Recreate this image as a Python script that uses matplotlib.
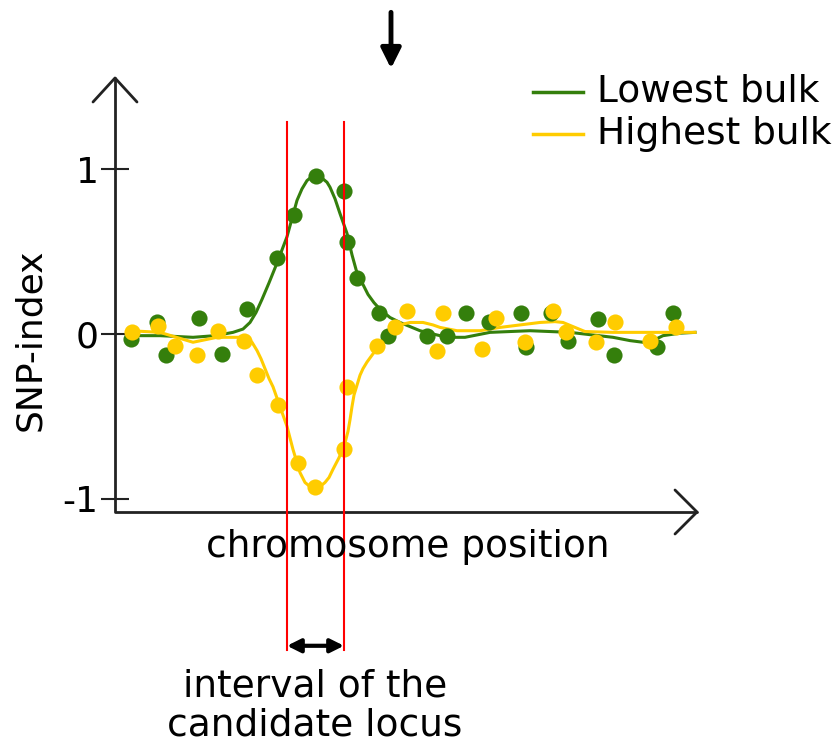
import matplotlib.pyplot as plt
from matplotlib.lines import Line2D

# chromosome position (arbitrary units) and SNP-index values
low_x = [16, 42, 51, 84, 107, 132, 162, 179, 201, 229, 232, 242, 264, 273, 312, 332,
         351, 374, 406, 411, 436, 453, 483, 499, 542, 558]
low_y = [-0.03, 0.07, -0.13, 0.10, -0.12, 0.15, 0.46, 0.72, 0.96, 0.87, 0.56, 0.34, 0.13,
         -0.01, -0.01, -0.01, 0.13, 0.07, 0.13, -0.08, 0.13, -0.04, 0.09, -0.13, -0.08, 0.13]

high_x = [17, 43, 60, 82, 103, 129, 142, 163, 183, 200, 229, 232, 262, 280, 292, 322,
          328, 367, 381, 410, 438, 451, 481, 500, 535, 561]
high_y = [0.01, 0.05, -0.07, -0.13, 0.02, -0.04, -0.25, -0.43, -0.78, -0.93, -0.70, -0.32,
          -0.07, 0.04, 0.14, -0.10, 0.13, -0.09, 0.10, -0.05, 0.14, 0.01, -0.05, 0.07, -0.04, 0.04]

# smoothed trend lines
low_fit_x = [15, 45, 78, 100, 118, 128, 135, 141, 147, 154, 162, 167, 172, 177, 182, 187,
             192, 196, 200, 204, 208, 212, 215, 220, 225, 232, 237, 242, 248, 253, 259,
             265, 275, 285, 295, 305, 318, 332, 350, 375, 415, 455, 498, 515, 528, 538,
             548, 565, 580]
low_fit_y = [-0.01, -0.01, -0.02, -0.01, 0.01, 0.03, 0.07, 0.13, 0.21, 0.31, 0.43, 0.51,
             0.59, 0.70, 0.81, 0.88, 0.93, 0.95, 0.96, 0.955, 0.94, 0.92, 0.89, 0.82, 0.73,
             0.61, 0.48, 0.37, 0.30, 0.24, 0.19, 0.15, 0.10, 0.07, 0.045, 0.02, 0.0, -0.02,
             -0.02, 0.01, 0.02, 0.01, -0.02, -0.04, -0.05, -0.04, -0.01, 0.005, 0.01]

high_fit_x = [15, 45, 78, 102, 125, 132, 137, 142, 146, 150, 154, 158, 165, 172, 178, 185,
              190, 195, 200, 205, 210, 214, 218, 224, 230, 233, 235, 237, 239, 242, 245,
              248, 252, 258, 265, 272, 280, 288, 295, 308, 318, 325, 342, 365, 385, 405,
              425, 440, 448, 460, 470, 498, 535, 580]
high_fit_y = [0.02, 0.01, -0.05, -0.02, -0.02, -0.03, -0.05, -0.10, -0.15, -0.21, -0.27,
              -0.32, -0.44, -0.56, -0.70, -0.84, -0.90, -0.925, -0.935, -0.925, -0.90, -0.87,
              -0.82, -0.75, -0.66, -0.59, -0.52, -0.44, -0.37, -0.31, -0.25, -0.21, -0.17,
              -0.12, -0.07, -0.02, 0.03, 0.06, 0.07, 0.07, 0.055, 0.04, 0.02, 0.02, 0.04,
              0.055, 0.07, 0.075, 0.07, 0.04, 0.015, 0.01, 0.01, 0.01]

interval = [172, 229]
peak_x = 276
y_ticks = [-1, 0, 1]

GREEN = '#347f0c'
YELLOW = '#ffcc00'
FS = 27

fig = plt.figure(figsize=(8.35, 7.45), dpi=100)
ax = fig.add_axes([115 / 835, 1 - 512 / 745, 582 / 835, 434 / 745])
ax.set_xlim(0, 582)
ax.set_ylim(-1.079, 1.552)
for s in ax.spines.values():
    s.set_visible(False)

ax.plot(low_fit_x, low_fit_y, color=GREEN, lw=2.2, solid_joinstyle='round')
ax.plot(high_fit_x, high_fit_y, color=YELLOW, lw=2.2, solid_joinstyle='round')
ax.scatter(low_x, low_y, s=135, color=GREEN, zorder=3, linewidths=0)
ax.scatter(high_x, high_y, s=135, color=YELLOW, zorder=4, linewidths=0)

# interval boundaries
for xv in interval:
    ax.plot([xv, xv], [1.285, -1.915], color='red', lw=1.5, clip_on=False, zorder=5)
ax.annotate('', xy=(interval[0], -1.89), xytext=(interval[1], -1.89),
            arrowprops=dict(arrowstyle='<|-|>', color='black', lw=3, mutation_scale=20,
                            shrinkA=0, shrinkB=0), annotation_clip=False)
ax.annotate('', xy=(peak_x, 1.61), xytext=(peak_x, 1.95),
            arrowprops=dict(arrowstyle='-|>', color='black', lw=3.5, mutation_scale=30,
                            shrinkA=0, shrinkB=0), annotation_clip=False)

# axes with open arrowheads
k = dict(color='#222222', lw=2, transform=ax.transAxes, clip_on=False, solid_capstyle='round')
ax.plot([0, 0, 1], [1, 0, 0], **k)
wx, wy = 22 / 582, 24 / 434
ax.plot([-wx, 0, wx], [1 - wy, 1, 1 - wy], **k)
ax.plot([1 - 22 / 582, 1, 1 - 22 / 582], [22 / 434, 0, -22 / 434], **k)

ax.set_xticks([])
ax.set_yticks(y_ticks)
ax.set_yticklabels(['-1', '0', '1'])
ax.tick_params(axis='y', direction='inout', length=19.5, width=1.5, pad=2,
               labelsize=FS - 1, color='#222222')

fig.text(30 / 835, 1 - 340 / 745, 'SNP-index', rotation=90, fontsize=FS - 1,
         ha='center', va='center')
fig.text(408 / 835, 1 - 547 / 745, 'chromosome position', fontsize=FS,
         ha='center', va='center')
fig.text(315 / 835, 1 - 706 / 745, 'interval of the\ncandidate locus', fontsize=FS,
         ha='center', va='center', linespacing=1.12)

# legend
for yy, col, lab in [(92, GREEN, 'Lowest bulk'), (134, YELLOW, 'Highest bulk')]:
    fig.add_artist(Line2D([533 / 835, 583 / 835], [1 - yy / 745] * 2, color=col, lw=2.5))
    fig.text(597 / 835, 1 - yy / 745, lab, fontsize=FS, ha='left', va='center')

fig.savefig('out.png', dpi=100)
